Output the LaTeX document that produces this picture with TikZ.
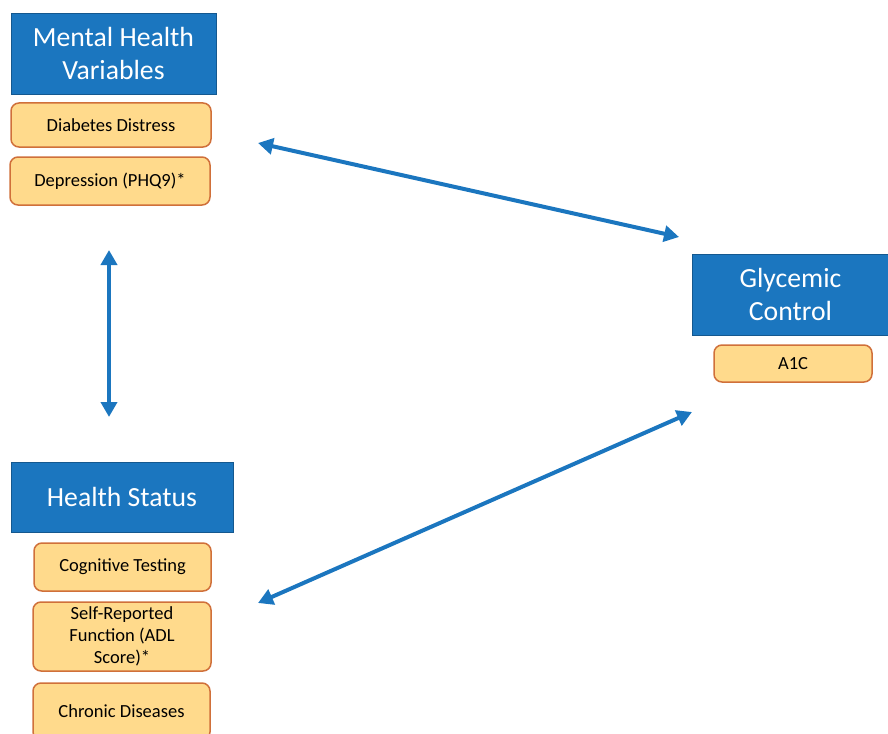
\documentclass[tikz,border=0pt]{standalone}
\usepackage{fontspec}
\setmainfont{Carlito}
\usetikzlibrary{arrows.meta}
\definecolor{hdrblue}{HTML}{1B76BF}
\definecolor{itemfill}{HTML}{FFDA8C}
\definecolor{itemline}{HTML}{D0703A}
\tikzset{
  header/.style={fill=hdrblue, draw=hdrblue!75!black, line width=0.8pt, text=white,
    font=\fontsize{27.7}{33}\selectfont, align=center, inner sep=0pt},
  item/.style={fill=itemfill, draw=itemline, line width=1.5pt, rounded corners=8pt,
    font=\fontsize{18.5}{22}\selectfont, align=center, inner sep=0pt},
  link/.style={draw=hdrblue, line width=4pt,
    {Triangle[length=15pt,width=16pt]}-{Triangle[length=15pt,width=16pt]}}
}

\begin{document}
\begin{tikzpicture}[x=1pt,y=-1pt]
    \useasboundingbox (0,0) rectangle (888,733);
    \node[header, minimum width=205, minimum height=81] (mental) at (113.5,53.5) {Mental Health\\Variables};
    \node[item, minimum width=200, minimum height=44] (distress) at (111,125) {Diabetes Distress};
    \node[item, minimum width=200, minimum height=48] (phq) at (110,181) {Depression (PHQ9)*};
    \node[header, minimum width=222, minimum height=70] (status) at (122,497) {Health Status};
    \node[item, minimum width=177, minimum height=48] (cognitive) at (122.5,567) {Cognitive Testing};
    \node[item, minimum width=178, minimum height=69] (adl) at (122,636.5) {Self-Reported\\Function (ADL\\Score)*};
    \node[item, minimum width=177, minimum height=57] (chronic) at (121.5,711.5) {Chronic Diseases};
    \node[header, minimum width=197, minimum height=81] (glycemic) at (790.5,294.5) {Glycemic\\Control};
    \node[item, minimum width=158, minimum height=37] (aonec) at (793,363.5) {A1C};
    \coordinate (mentalR) at (258,143);
    \coordinate (mentalB) at (109,250);
    \coordinate (statusT) at (109,417);
    \coordinate (statusR) at (258,603);
    \coordinate (glycemicL) at (679,237);
    \coordinate (glycemicB) at (692,412);
    \draw[link] (mentalR) -- (glycemicL);
    \draw[link] (mentalB) -- (statusT);
    \draw[link] (statusR) -- (glycemicB);
\end{tikzpicture}
\end{document}
